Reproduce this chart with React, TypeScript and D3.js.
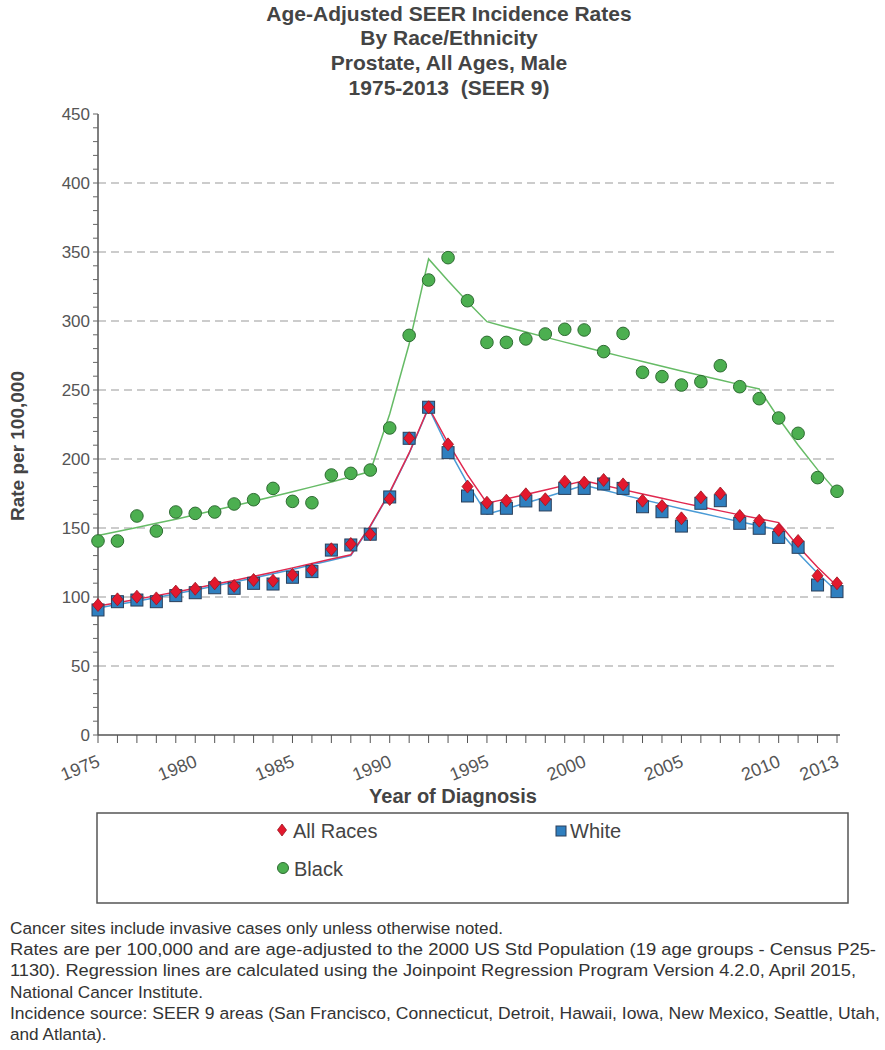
import React from "react";
import * as d3 from "d3";

const years: number[] = d3.range(1975, 2014);

// Observed rates (per 100,000)
const allRaces: number[] = [
  94.2, 98.3, 100.2, 99.0, 103.9, 106.0, 109.9, 108.0, 112.3, 111.8, 116.0, 119.6, 134.6, 138.4,
  145.5, 171.0, 215.0, 237.5, 210.6, 180.0, 168.3, 169.8, 174.4, 170.8, 183.6, 182.9, 184.8,
  181.6, 169.8, 165.9, 157.0, 172.2, 175.0, 158.7, 155.3, 148.6, 140.6, 115.4, 109.9,
];
const white: number[] = [
  90.6, 96.6, 97.8, 96.6, 101.0, 103.1, 106.7, 106.3, 109.9, 109.4, 114.3, 118.4, 134.0, 137.7,
  145.5, 172.5, 215.0, 237.5, 204.6, 173.2, 164.3, 164.3, 169.6, 166.7, 178.7, 178.7, 181.9,
  178.7, 165.4, 161.8, 151.4, 167.9, 169.8, 153.4, 149.8, 143.2, 136.0, 108.7, 103.9,
];
const black: number[] = [
  140.6, 140.6, 158.7, 147.8, 161.6, 160.6, 161.6, 167.4, 170.5, 178.7, 169.3, 168.3, 188.4, 189.6,
  192.0, 222.5, 289.6, 329.7, 345.9, 314.7, 284.5, 284.5, 287.0, 290.6, 294.0, 293.5, 277.8,
  291.0, 262.8, 259.7, 253.6, 256.0, 267.6, 252.4, 243.7, 229.7, 218.6, 186.5, 176.6,
];

// Joinpoint regression (fitted) values, read per year from the picture
const allRacesFit: number[] = [
  93.5, 95.9, 98.4, 101.0, 103.7, 106.4, 109.2, 112.0, 115.0, 118.0, 121.1, 124.2, 127.5, 130.6,
  151.5, 176.0, 204.4, 237.5, 211.6, 188.5, 168.0, 171.1, 174.3, 177.6, 180.9, 184.3, 181.0,
  177.8, 174.6, 171.5, 168.4, 165.4, 162.4, 159.5, 156.7, 153.9, 136.8, 121.5, 108.0,
];
const whiteFit: number[] = [
  92.0, 94.5, 97.0, 99.6, 102.3, 105.1, 107.9, 110.8, 113.8, 116.9, 120.0, 123.3, 126.6, 130.0,
  151.1, 175.5, 204.0, 237.0, 207.9, 182.3, 160.0, 164.0, 168.1, 172.3, 176.6, 181.0, 177.5,
  174.0, 170.6, 167.3, 164.0, 160.8, 157.7, 154.6, 151.6, 148.6, 131.9, 117.2, 104.0,
];
const blackFit: number[] = [
  144.5, 147.4, 150.3, 153.4, 156.4, 159.6, 162.8, 166.1, 169.4, 172.8, 176.3, 179.8, 183.4, 187.1,
  190.9, 232.6, 283.3, 345.0, 329.1, 313.9, 299.5, 295.7, 292.0, 288.3, 284.7, 281.1, 277.5,
  274.0, 270.6, 267.2, 263.8, 260.5, 257.2, 253.9, 250.7, 229.5, 210.1, 192.3, 176.0,
];

const yTicks: number[] = [0, 50, 100, 150, 200, 250, 300, 350, 400, 450];
const xTickLabels: number[] = [1975, 1980, 1985, 1990, 1995, 2000, 2005, 2010, 2013];

const titleLines: string[] = [
  "Age-Adjusted SEER Incidence Rates",
  "By Race/Ethnicity",
  "Prostate, All Ages, Male",
  "1975-2013  (SEER 9)",
];
const footerLines: string[] = [
  "Cancer sites include invasive cases only unless otherwise noted.",
  "Rates are per 100,000 and are age-adjusted to the 2000 US Std Population (19 age groups - Census P25-",
  "1130). Regression lines are calculated using the Joinpoint Regression Program Version 4.2.0, April 2015,",
  "National Cancer Institute.",
  "Incidence source: SEER 9 areas (San Francisco, Connecticut, Detroit, Hawaii, Iowa, New Mexico, Seattle, Utah,",
  "and Atlanta).",
];
// width each footer line takes in the reference (null = natural)
const footerWidths: (number | null)[] = [null, 866, 846, null, 870, null];

const RED = "#e3182d";
const RED_LINE = "#e0284f";
const BLUE = "#2f7fbf";
const BLUE_LINE = "#4a9bd6";
const GREEN = "#4caf50";
const GREEN_LINE = "#66bb66";
const FONT = "'Liberation Sans', Arial, sans-serif";

export default function App() {
  const W = 885;
  const H = 1050;
  const x = d3.scaleLinear().domain([1975, 2013]).range([98, 837]);
  const y = d3.scaleLinear().domain([0, 450]).range([735, 114]);

  const line = d3
    .line<number>()
    .x((_, i) => x(years[i]))
    .y((v) => y(v));

  const diamond = (cx: number, cy: number, w = 5.5, h = 6.5) =>
    `M${cx},${cy - h}L${cx + w},${cy}L${cx},${cy + h}L${cx - w},${cy}Z`;

  const minorTicks = d3.range(0, 451, 10);

  return (
    <svg
      width={W}
      height={H}
      style={{ position: "absolute", left: 0, top: 0, background: "#fff" }}
      fontFamily={FONT}
    >
      {/* Title */}
      {titleLines.map((t, i) => (
        <text
          key={i}
          x={449}
          y={20.5 + i * 24.7}
          textAnchor="middle"
          fontSize={21}
          fontWeight="bold"
          fill="#444"
          style={{ whiteSpace: "pre" }}
        >
          {t}
        </text>
      ))}

      {/* Gridlines */}
      {yTicks
        .filter((t) => t > 0 && t < 450)
        .map((t) => (
          <line
            key={t}
            x1={x(1975)}
            x2={835}
            y1={y(t)}
            y2={y(t)}
            stroke="#999"
            strokeWidth={1}
            strokeDasharray="8,5"
          />
        ))}

      {/* Y axis */}
      <line x1={x(1975)} x2={x(1975)} y1={y(450)} y2={y(0)} stroke="#555" strokeWidth={1.5} />
      {minorTicks.map((t) => (
        <line key={t} x1={x(1975) - 5} x2={x(1975)} y1={y(t)} y2={y(t)} stroke="#666" strokeWidth={1} />
      ))}
      {yTicks.map((t) => (
        <text key={t} x={90} y={y(t) + 6} textAnchor="end" fontSize={17} fill="#555">
          {t}
        </text>
      ))}
      <text
        transform={`translate(24, 446) rotate(-90)`}
        textAnchor="middle"
        fontSize={19}
        fontWeight="bold"
        fill="#444"
      >
        Rate per 100,000
      </text>

      {/* X axis */}
      <line x1={x(1975)} x2={x(2013) + 3} y1={y(0)} y2={y(0)} stroke="#555" strokeWidth={1.5} />
      {years.map((yr) => (
        <line key={yr} x1={x(yr)} x2={x(yr)} y1={y(0)} y2={y(0) + 8} stroke="#555" strokeWidth={1} />
      ))}
      {xTickLabels.map((yr) => (
        <text
          key={yr}
          transform={`translate(${x(yr) + 3}, ${y(0) + 31}) rotate(-22)`}
          textAnchor="end"
          fontSize={18}
          fill="#555"
        >
          {yr}
        </text>
      ))}
      <text x={453} y={803} textAnchor="middle" fontSize={20} fontWeight="bold" fill="#444">
        Year of Diagnosis
      </text>

      {/* Regression lines */}
      <path d={line(blackFit) || ""} fill="none" stroke={GREEN_LINE} strokeWidth={1.5} />
      <path d={line(whiteFit) || ""} fill="none" stroke={BLUE_LINE} strokeWidth={1.5} />
      <path d={line(allRacesFit) || ""} fill="none" stroke={RED_LINE} strokeWidth={1.5} />

      {/* Points */}
      {black.map((v, i) => (
        <circle key={"b" + i} cx={x(years[i])} cy={y(v)} r={6.3} fill={GREEN} stroke="#2f6b33" strokeWidth={1} />
      ))}
      {white.map((v, i) => (
        <rect
          key={"w" + i}
          x={x(years[i]) - 6}
          y={y(v) - 6}
          width={12}
          height={12}
          fill={BLUE}
          stroke="#2a3f5a"
          strokeWidth={1}
        />
      ))}
      {allRaces.map((v, i) => (
        <path key={"a" + i} d={diamond(x(years[i]), y(v))} fill={RED} stroke="#9b1420" strokeWidth={0.8} />
      ))}

      {/* Legend */}
      <rect x={97} y={813} width={751} height={90} fill="none" stroke="#555" strokeWidth={1.5} />
      <path d={diamond(282, 830, 4.5, 6)} fill={RED} stroke="#9b1420" strokeWidth={0.8} />
      <text x={293} y={838} fontSize={20} fill="#444">
        All Races
      </text>
      <rect x={556} y={826} width={10} height={10} fill={BLUE} stroke="#2a3f5a" strokeWidth={1} />
      <text x={570} y={838} fontSize={20} fill="#444">
        White
      </text>
      <circle cx={283} cy={868} r={5.5} fill={GREEN} stroke="#2f6b33" strokeWidth={1} />
      <text x={294} y={876} fontSize={20} fill="#444">
        Black
      </text>

      {/* Footer */}
      {footerLines.map((t, i) => {
        const w = footerWidths[i];
        return (
          <text
            key={i}
            x={10}
            y={934 + i * 21.2}
            fontSize={17.2}
            fill="#333"
            {...(w ? { textLength: w, lengthAdjust: "spacingAndGlyphs" } : {})}
          >
            {t}
          </text>
        );
      })}
    </svg>
  );
}
